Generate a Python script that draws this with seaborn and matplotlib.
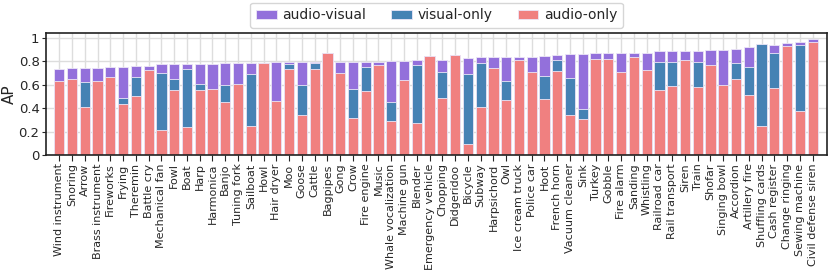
import matplotlib
matplotlib.use("Agg")
import matplotlib.pyplot as plt
import seaborn as sns
import pandas as pd
from matplotlib.ticker import FuncFormatter

sns.set_style("ticks")

categories = [
    "Wind instrument", "Snoring", "Arrow", "Brass instrument", "Fireworks",
    "Frying", "Theremin", "Battle cry", "Mechanical fan", "Fowl",
    "Boat", "Harp", "Harmonica", "Banjo", "Tuning fork",
    "Sailboat", "Howl", "Hair dryer", "Moo", "Goose",
    "Cattle", "Bagpipes", "Gong", "Crow", "Fire engine",
    "Music", "Whale vocalization", "Machine gun", "Blender", "Emergency vehicle",
    "Chopping", "Didgeridoo", "Bicycle", "Subway", "Harpsichord",
    "Owl", "Ice cream truck", "Police car", "Hoot", "French horn",
    "Vacuum cleaner", "Sink", "Turkey", "Gobble", "Fire alarm",
    "Sanding", "Whistling", "Railroad car", "Rail transport", "Siren",
    "Train", "Shofar", "Singing bowl", "Accordion", "Artillery fire",
    "Shuffling cards", "Cash register", "Change ringing", "Sewing machine", "Civil defense siren",
]

audio_visual = [
    0.737, 0.743, 0.743, 0.746, 0.749, 0.751, 0.757, 0.760, 0.774, 0.774,
    0.777, 0.780, 0.780, 0.783, 0.786, 0.786, 0.786, 0.789, 0.789, 0.789,
    0.794, 0.871, 0.794, 0.794, 0.794, 0.797, 0.800, 0.800, 0.809, 0.843,
    0.814, 0.849, 0.829, 0.834, 0.834, 0.837, 0.837, 0.837, 0.846, 0.854,
    0.863, 0.863, 0.869, 0.869, 0.869, 0.874, 0.874, 0.883, 0.883, 0.889,
    0.886, 0.897, 0.897, 0.906, 0.923, 0.940, 0.940, 0.957, 0.966, 0.991,
]

visual_only = [
    0.50, 0.45, 0.626, 0.40, 0.35, 0.489, 0.663, 0.55, 0.697, 0.649,
    0.737, 0.603, 0.45, 0.600, 0.50, 0.689, 0.60, 0.35, 0.774, 0.600,
    0.786, 0.65, 0.55, 0.566, 0.751, 0.60, 0.454, 0.50, 0.771, 0.70,
    0.711, 0.70, 0.691, 0.783, 0.60, 0.631, 0.70, 0.55, 0.674, 0.814,
    0.660, 0.394, 0.70, 0.65, 0.55, 0.70, 0.60, 0.797, 0.797, 0.70,
    0.791, 0.65, 0.45, 0.783, 0.749, 0.943, 0.866, 0.80, 0.937, 0.85,
]

audio_only = [
    0.634, 0.651, 0.406, 0.634, 0.669, 0.434, 0.506, 0.723, 0.217, 0.551,
    0.243, 0.557, 0.566, 0.454, 0.609, 0.249, 0.786, 0.457, 0.737, 0.343,
    0.737, 0.871, 0.703, 0.320, 0.549, 0.771, 0.291, 0.643, 0.274, 0.843,
    0.489, 0.849, 0.097, 0.406, 0.746, 0.469, 0.806, 0.706, 0.480, 0.714,
    0.343, 0.309, 0.820, 0.820, 0.711, 0.840, 0.726, 0.557, 0.586, 0.814,
    0.580, 0.766, 0.594, 0.649, 0.514, 0.249, 0.574, 0.926, 0.374, 0.960,
]

df = pd.DataFrame({
    "category": categories,
    "audio-visual": audio_visual,
    "visual-only": visual_only,
    "audio-only": audio_only,
})

colors = {
    "audio-visual": "#9370DB",
    "visual-only": "#4682B4",
    "audio-only": "#F08080",
}

fig, ax = plt.subplots(figsize=(8.3, 2.73), dpi=100)

# overlapping bars: widest score at the back, audio-only at the front
for name in ["audio-visual", "visual-only", "audio-only"]:
    sns.barplot(data=df, x="category", y=name, color=colors[name], label=name,
                saturation=1, width=0.8, edgecolor="#ECE6F7", linewidth=0.6,
                ax=ax)

ax.set_xlim(-1, 60.1)
ax.set_ylim(0, 1.04)
ax.set_yticks([0, 0.2, 0.4, 0.6, 0.8, 1.0])
ax.yaxis.set_major_formatter(FuncFormatter(lambda v, p: f"{v:g}"))
ax.set_xlabel("")
ax.set_ylabel("AP", fontsize=11, labelpad=1)
ax.tick_params(axis="y", labelsize=9.5, length=3, pad=2)
ax.tick_params(axis="x", labelsize=8, rotation=90, length=4, pad=2)
ax.grid(True, color="#DDDDDD", linewidth=1)
ax.set_axisbelow(True)
for s in ax.spines.values():
    s.set_color("#222222")
    s.set_linewidth(1.2)

ax.legend(loc="lower center", bbox_to_anchor=(0.5, 1.02), ncol=3, fontsize=10,
          frameon=True, handlelength=1.5, handletextpad=0.4,
          columnspacing=1.8, borderaxespad=0.2)

fig.subplots_adjust(left=0.056, right=0.996, top=0.879, bottom=0.432)
fig.savefig("out.png", dpi=100)
